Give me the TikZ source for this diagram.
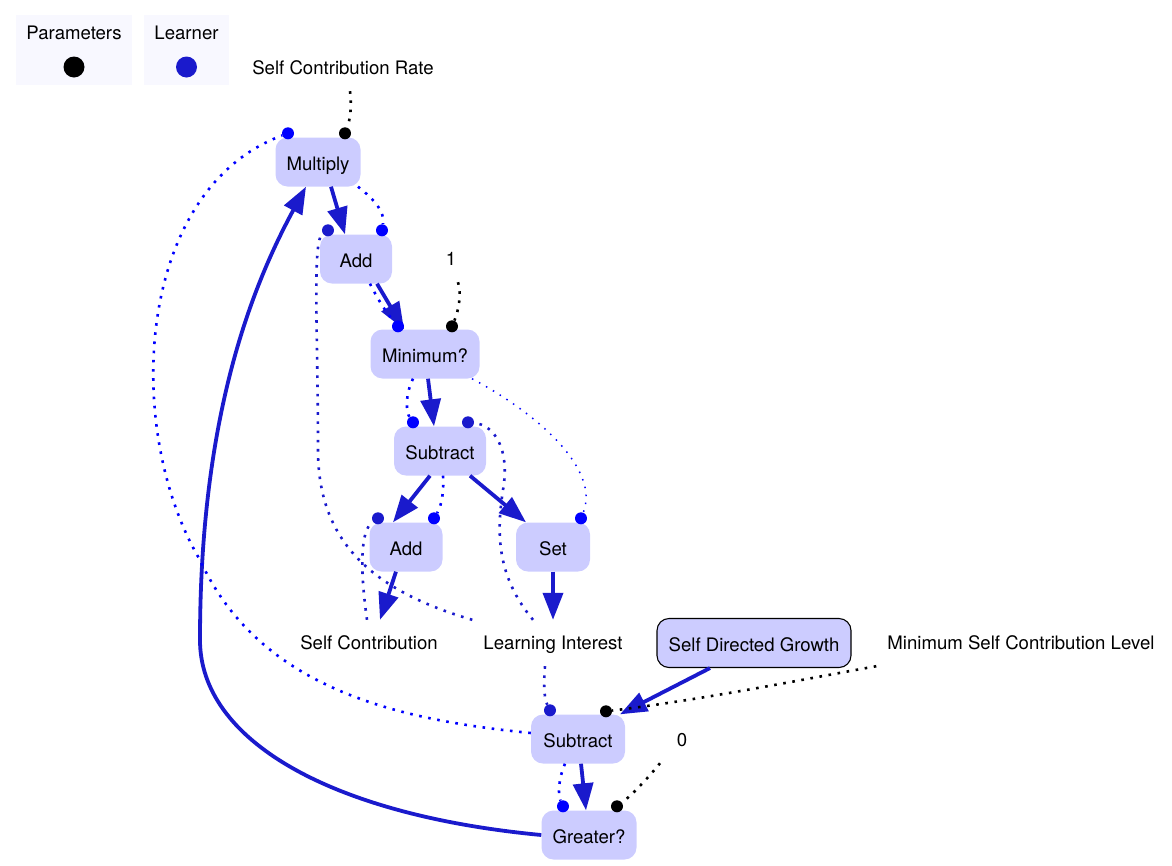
\documentclass[tikz,border=0pt]{standalone}
\usepackage{fontspec}
\setmainfont{TeX Gyre Heros}
\usetikzlibrary{arrows.meta,calc}
\definecolor{flowc}{RGB}{26,26,204}
\definecolor{nodefill}{RGB}{204,204,255}
\definecolor{legfill}{RGB}{248,248,255}
\definecolor{pureblue}{RGB}{0,0,255}
\begin{document}
\begin{tikzpicture}[x=1pt,y=-1pt,
  font=\fontsize{18.6pt}{22pt}\selectfont,
  op/.style={rounded corners=12pt, fill=nodefill, minimum height=49pt, inner xsep=11pt, inner ysep=0pt, text height=17.4pt, text depth=0pt},
  var/.style={op, draw=black, line width=1.1pt},
  lbl/.style={inner sep=0pt, minimum height=46pt, text height=17.4pt, text depth=0pt},
  legbox/.style={fill=legfill, minimum height=70pt, inner sep=0pt},
  flow/.style={draw=flowc, line width=3.8pt, -{Triangle[length=27pt,width=20pt]}},
  bin/.style={draw=pureblue, line width=2.6pt, dash pattern=on 2.6pt off 6.6pt},
  din/.style={draw=flowc, line width=2.6pt, dash pattern=on 2.6pt off 6.6pt},
  kin/.style={draw=black, line width=2.6pt, dash pattern=on 2.6pt off 6.6pt},
  thinin/.style={draw=pureblue, line width=1.5pt, dash pattern=on 1.5pt off 6.5pt},
  bdot/.style={circle, fill=pureblue, inner sep=0pt, minimum size=12pt},
  ddot/.style={circle, fill=flowc, inner sep=0pt, minimum size=12pt},
  kdot/.style={circle, fill=black, inner sep=0pt, minimum size=12pt}
]
\useasboundingbox (0,0) rectangle (1172,865);

% legend
\node[legbox, minimum width=116pt] (legP) at (74,50) {};
\node[lbl, minimum height=0pt] (legPt) at (74,31) {Parameters};
\node[circle, fill=black, minimum size=21pt, inner sep=0pt] (legPd) at (74,67) {};
\node[legbox, minimum width=85pt] (legL) at (186.5,50) {};
\node[lbl, minimum height=0pt] (legLt) at (186.5,31) {Learner};
\node[circle, fill=flowc, minimum size=21pt, inner sep=0pt] (legLd) at (186.5,67) {};

% labels
\node[lbl] (scr) at (343,66) {Self Contribution Rate};
\node[lbl] (one) at (451,257) {1};
\node[lbl] (selfc) at (369,641) {Self Contribution};
\node[lbl] (learn) at (553,641) {Learning Interest};
\node[lbl] (mscl) at (1021,641) {Minimum Self Contribution Level};
\node[lbl] (zero) at (682,738) {0};

% operation nodes
\node[op, minimum width=85pt] (mult) at (318,162) {Multiply};
\node[op, minimum width=72pt] (add1) at (356,259) {Add};
\node[op, minimum width=109pt] (nmin) at (425,354) {Minimum?};
\node[op, minimum width=92pt] (sub1) at (440,451) {Subtract};
\node[op, minimum width=73pt] (add2) at (406,547) {Add};
\node[op, minimum width=74pt] (nset) at (553,547) {Set};
\node[var, minimum width=194pt] (sdg) at (754,643) {Self Directed Growth};
\node[op, minimum width=94pt] (sub2) at (578,739) {Subtract};
\node[op, minimum width=95pt] (gre) at (589,835) {Greater?};

% solid flow arrows
\draw[flow] ([xshift=13pt]mult.south) -- ([xshift=-11pt]add1.north);
\draw[flow] ([xshift=21pt]add1.south) -- ([xshift=-21pt]nmin.north);
\draw[flow] ([xshift=3pt]nmin.south) -- ([xshift=-6pt]sub1.north);
\draw[flow] ([xshift=-10pt]sub1.south) -- ([xshift=-13pt]add2.north);
\draw[flow] ([xshift=30pt]sub1.south) -- ([xshift=-27pt]nset.north);
\draw[flow] ([xshift=-10pt]add2.south) -- ([xshift=11pt,yshift=-2pt]selfc.north);
\draw[flow] (nset.south) -- ([yshift=-2pt]learn.north);
\draw[flow] ([xshift=-44pt]sdg.south) -- ([xshift=42pt]sub2.north);
\draw[flow] ([xshift=3pt]sub2.south) -- ([xshift=-3pt]gre.north);
\draw[flow] (gre.west) .. controls (330,815) and (200,740) .. (200,640)
  .. controls (200,420) and (250,290) .. ([xshift=-12pt]mult.south);

% input dots
\node[bdot] (multL) at ([xshift=-30pt,yshift=4pt]mult.north) {};
\node[kdot] (multR) at ([xshift=27pt,yshift=4pt]mult.north) {};
\node[ddot] (add1L) at ([xshift=-28pt,yshift=4pt]add1.north) {};
\node[bdot] (add1R) at ([xshift=26pt,yshift=4pt]add1.north) {};
\node[bdot] (minL) at ([xshift=-27pt,yshift=3pt]nmin.north) {};
\node[kdot] (minR) at ([xshift=27pt,yshift=3pt]nmin.north) {};
\node[bdot] (sub1L) at ([xshift=-27pt,yshift=4pt]sub1.north) {};
\node[ddot] (sub1R) at ([xshift=28pt,yshift=4pt]sub1.north) {};
\node[ddot] (add2L) at ([xshift=-28pt,yshift=4pt]add2.north) {};
\node[bdot] (add2R) at ([xshift=28pt,yshift=4pt]add2.north) {};
\node[bdot] (setR) at ([xshift=28pt,yshift=4pt]nset.north) {};
\node[ddot] (sub2L) at ([xshift=-28pt,yshift=4pt]sub2.north) {};
\node[kdot] (sub2R) at ([xshift=28pt,yshift=3pt]sub2.north) {};
\node[bdot] (greL) at ([xshift=-26pt,yshift=4pt]gre.north) {};
\node[kdot] (greR) at ([xshift=28pt,yshift=4pt]gre.north) {};

% dotted input connectors
\draw[kin] ([xshift=7pt,yshift=-2pt]scr.south) .. controls (352,107) and (350,120) .. (multR);
\draw[bin] ([yshift=6pt]sub2.west) .. controls (400,720) and (260,690) .. (200,560)
  .. controls (123,430) and (135,190) .. (multL);
\draw[bin] ([xshift=40pt]mult.south) .. controls (375,200) and (385,212) .. (add1R);
\draw[din] ([xshift=-11pt,yshift=-2pt]learn.north west) .. controls (370,590) and (318,540) .. (318,450)
  .. controls (318,330) and (312,240) .. (add1L);
\draw[bin] ([xshift=14pt]add1.south) .. controls (378,300) and (388,315) .. (minL);
\draw[kin] ([xshift=7pt,yshift=-2pt]one.south) .. controls (462,295) and (458,312) .. (minR);
\draw[bin] ([xshift=-12pt]nmin.south) .. controls (405,395) and (406,412) .. (sub1L);
\draw[thinin] ([xshift=47pt]nmin.south) .. controls (540,415) and (600,470) .. (setR);
\draw[bin] ([xshift=3pt]sub1.south) .. controls (444,490) and (442,505) .. (add2R);
\draw[din] ([xshift=-20pt,yshift=-2pt]learn.north) .. controls (500,580) and (495,540) .. (503,490)
  .. controls (510,450) and (495,425) .. (sub1R);
\draw[din] ([xshift=-2pt,yshift=-2pt]selfc.north) .. controls (360,570) and (360,530) .. (add2L);
\draw[din] ([xshift=-8pt,yshift=-2pt]learn.south) .. controls (543,690) and (545,700) .. (sub2L);
\draw[kin] ([xshift=-11pt,yshift=-2pt]mscl.south west) .. controls (800,680) and (700,700) .. (sub2R);
\draw[bin] ([xshift=-13pt]sub2.south) .. controls (558,780) and (558,795) .. (greL);
\draw[kin] ([xshift=-22pt,yshift=-2pt]zero.south) .. controls (648,778) and (632,795) .. (greR);
\end{tikzpicture}
\end{document}
